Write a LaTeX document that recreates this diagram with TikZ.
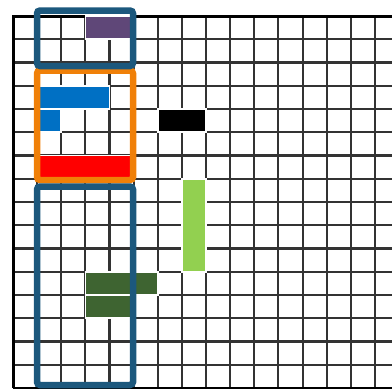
\documentclass[tikz,border=0pt]{standalone}
\usetikzlibrary{calc}
\definecolor{frameblue}{HTML}{1C587D}
\definecolor{frameorange}{HTML}{F08008}
\definecolor{cpurple}{HTML}{5F4778}
\definecolor{cblue}{HTML}{0070C4}
\definecolor{cred}{HTML}{FF0000}
\definecolor{clgreen}{HTML}{92D050}
\definecolor{cdgreen}{HTML}{3E6431}
\tikzset{
  gridline/.style={line width=2.1pt, draw=black!80},
  borderline/.style={line width=3pt, draw=black},
  cellbox/.style={draw=white, line width=1.6pt},
  groupframe/.style={line width=6.5pt, rounded corners=3pt},
}
\begin{document}
\begin{tikzpicture}[x=1pt,y=-1pt]
\useasboundingbox (0,0) rectangle (392,389);
\begin{scope}
\clip (0,0) rectangle (392,389);
% grid
\foreach \i in {1,...,16} {
  \draw[gridline] ({13+24.13*\i},16) -- ({13+24.13*\i},388);
}
\foreach \j in {1,...,15} {
  \draw[gridline] (13,{16+23.25*\j}) -- (400,{16+23.25*\j});
}
\draw[borderline] (13,388) -- (13,16) -- (400,16);
\draw[borderline] (13,388) -- (400,388);
% cells
\newcommand{\cx}[1]{13+24.13*#1}
\newcommand{\cy}[1]{16+23.25*#1}
\path[cellbox, fill=cpurple] ({\cx{3}},{\cy{0}}) rectangle ({\cx{5}},{\cy{1}});
\path[cellbox, fill=cblue] ({\cx{1}},{\cy{3}}) rectangle ({\cx{4}},{\cy{4}});
\path[cellbox, fill=cblue] ({\cx{1}},{\cy{4}}) rectangle ({\cx{2}},{\cy{5}});
\path[cellbox, fill=cred] ({\cx{1}},{\cy{6}}) rectangle ({\cx{5}},{\cy{7}});
\path[cellbox, fill=black] ({\cx{6}},{\cy{4}}) rectangle ({\cx{8}},{\cy{5}});
\path[cellbox, fill=clgreen] ({\cx{7}},{\cy{7}}) rectangle ({\cx{8}},{\cy{11}});
\path[cellbox, fill=cdgreen] ({\cx{3}},{\cy{11}}) rectangle ({\cx{6}},{\cy{12}});
\path[cellbox, fill=cdgreen] ({\cx{3}},{\cy{12}}) rectangle ({\cx{5}},{\cy{13}});
% group frames
\draw[groupframe, draw=frameorange] (37,70.5) rectangle (133,180);
\draw[groupframe, draw=frameblue] (37,10.5) rectangle (133,66);
\draw[groupframe, draw=frameblue] (37,186.5) rectangle (133,385);
\end{scope}
\end{tikzpicture}
\end{document}
